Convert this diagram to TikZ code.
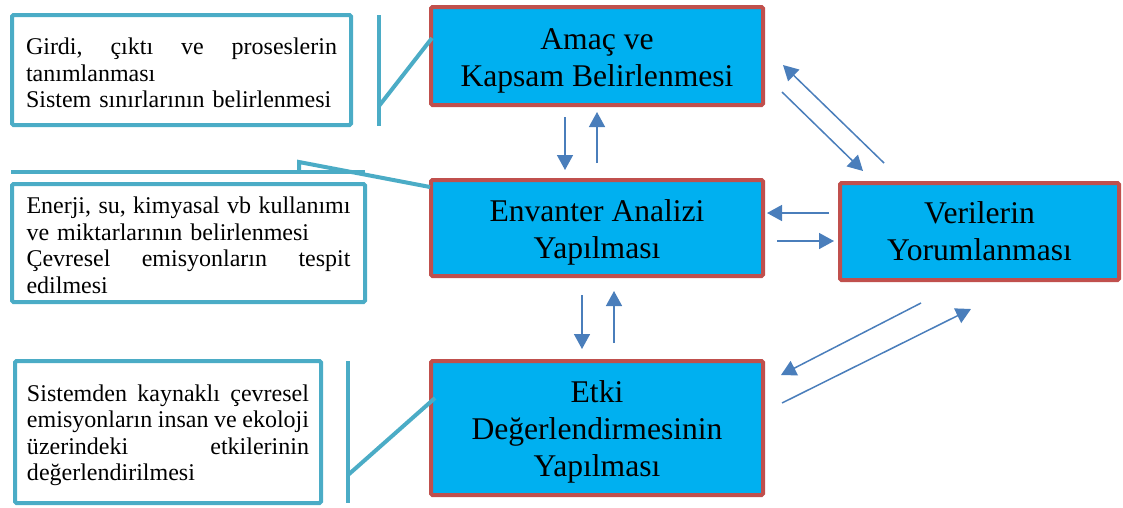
\documentclass[tikz,border=0pt]{standalone}
\usepackage{fontspec}
\setmainfont{Liberation Serif}
\usetikzlibrary{arrows.meta}
\definecolor{kutumavi}{HTML}{00B0F0}
\definecolor{kirmizi}{HTML}{C0504D}
\definecolor{turkuaz}{HTML}{4BACC6}
\definecolor{okmavi}{HTML}{4A7EBB}

\begin{document}
\begin{tikzpicture}[x=1pt,y=-1pt]
        \useasboundingbox (0,0) rectangle (1123,507);

        \begin{scope}[every node/.style={draw=kirmizi, fill=kutumavi, line width=4pt, outer sep=0pt,
            rounded corners=1.5pt, align=center, font=\fontsize{31.6}{36.8}\selectfont}]
          \node[minimum width=332pt, minimum height=98pt]  (amac)     at (597,56)      {\rule{0pt}{30pt}Amaç ve\\Kapsam Belirlenmesi};
          \node[minimum width=332pt, minimum height=96pt]  (envanter) at (597,228)     {\rule{0pt}{30pt}Envanter Analizi\\Yapılması};
          \node[minimum width=332pt, minimum height=134pt] (etki)     at (597,428)     {\rule{0pt}{30pt}Etki\\Değerlendirmesinin\\Yapılması};
          \node[minimum width=279pt, minimum height=97pt]  (veri)     at (979.5,231.5) {Verilerin\\Yorumlanması};
        \end{scope}

        \begin{scope}[every node/.style={draw=turkuaz, line width=4pt, outer sep=0pt, rounded corners=1.5pt,
            align=left, font=\fontsize{24}{26.5}\selectfont}]
          \node[minimum width=339pt, minimum height=110pt, text width=311pt] (not1) at (181.5,70)
            {\rule{0pt}{23pt}Girdi,\hfill çıktı\hfill ve\hfill proseslerin\\tanımlanması\\Sistem sınırlarının belirlenmesi};
          \node[minimum width=353pt, minimum height=118pt, text width=324pt] (not2) at (188.5,243)
            {\rule{0pt}{21pt}Enerji,\hfill su,\hfill kimyasal\hfill vb\hfill kullanımı\\ve miktarlarının belirlenmesi\\
             Çevresel\hfill emisyonların\hfill tespit\\edilmesi};
          \node[minimum width=306pt, minimum height=142pt, text width=282pt] (not3) at (168,432)
            {\rule{0pt}{23pt}Sistemden\hfill kaynaklı\hfill çevresel\\emisyonların\hfill insan\hfill ve\hfill ekoloji\\
             üzerindeki\hfill etkilerinin\\değerlendirilmesi};
        \end{scope}

        \coordinate (c1ust) at (379,15);
        \coordinate (c1alt) at (379,126);
        \coordinate (c1uc)  at (379,106);
        \coordinate (c2sol) at (11,172);
        \coordinate (c2sag) at (365,172);
        \coordinate (c2dip) at (299,172);
        \coordinate (c2uc)  at (299,162);
        \coordinate (c3ust) at (348,361);
        \coordinate (c3alt) at (348,503);
        \coordinate (c3uc)  at (348,475);

        \begin{scope}[every path/.style={draw=turkuaz, line width=4pt}]
          \path (c1ust) -- (c1alt);
          \path (c1uc) -- ([shift={(1,-18)}]amac.west);
          \path (c2sol) -- (c2sag);
          \path (c2dip) -- (c2uc) -- ([shift={(-1,-41)}]envanter.west);
          \path (c3ust) -- (c3alt);
          \path (c3uc) -- ([shift={(4,-30)}]etki.west);
        \end{scope}

        \begin{scope}[every edge/.style={draw=okmavi, line width=1.5pt, -{Triangle[length=15pt,width=16pt]}}]
          \path ([shift={(-32,12)}]amac.south)     edge ([shift={(-32,-10)}]envanter.north);
          \path ([shift={(0,-17)}]envanter.north)  edge ([shift={(0,7)}]amac.south);
          \path ([shift={(-15,19)}]envanter.south) edge ([shift={(-15,-12)}]etki.north);
          \path ([shift={(17,-18)}]etki.north)     edge ([shift={(17,15)}]envanter.south);
          \path ([shift={(-11,-18.5)}]veri.west)   edge ([shift={(4,-15)}]envanter.east);
          \path ([shift={(14,13)}]envanter.east)   edge ([shift={(-6,9.5)}]veri.west);
          \path ([shift={(-95.5,-20)}]veri.north)  edge ([shift={(20,9)}]amac.east);
          \path ([shift={(19,36)}]amac.east)       edge ([shift={(-116.5,-12)}]veri.north);
          \path ([shift={(-58.5,23)}]veri.south)   edge ([shift={(18,-53)}]etki.east);
          \path ([shift={(19,-25)}]etki.east)      edge ([shift={(-8.5,29)}]veri.south);
        \end{scope}

      \end{tikzpicture}
\end{document}
